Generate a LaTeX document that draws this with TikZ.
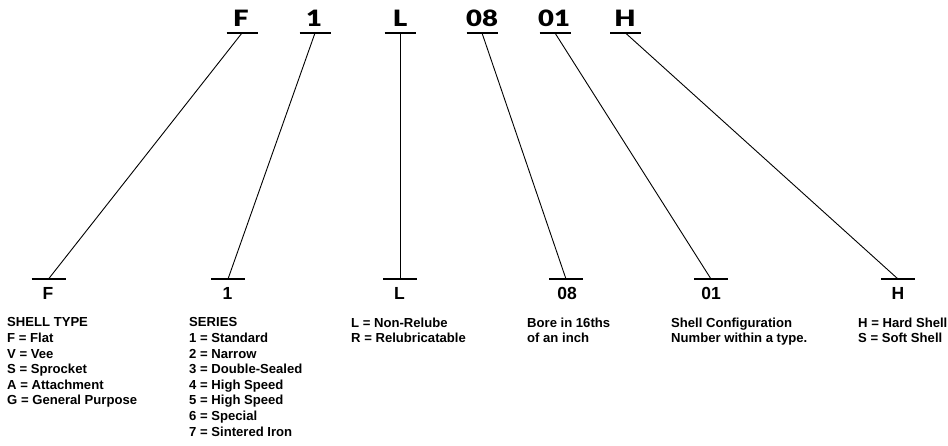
\documentclass[tikz,border=0pt]{standalone}
\usepackage{fontspec}
\setmainfont{Liberation Sans}
\newfontfamily\heavyfont[FakeStretch=1.22]{Lato Black}
\begin{document}
\begin{tikzpicture}[x=1pt,y=-1pt,
  toplet/.style={anchor=base,inner sep=0pt,font=\heavyfont\fontsize{22.5}{22.5}\selectfont},
  botlet/.style={anchor=base,inner sep=0pt,font=\bfseries\fontsize{17.5}{17.5}\selectfont},
  desc/.style={anchor=north west,inner sep=0pt,align=left,font=\bfseries\fontsize{13.1}{15.6}\selectfont},
  uline/.style={line width=1.3pt},
  conn/.style={line width=0.9pt}]
\useasboundingbox (0,0) rectangle (948,445);
% top code letters
\node[toplet] (TF) at (241,26) {F};
\node[toplet] (T1) at (314,26) {1};
\node[toplet] (TL) at (400,26) {L};
\node[toplet] (T08) at (482,26) {08};
\node[toplet] (T01) at (554,26) {01};
\node[toplet] (TH) at (625,26) {H};
% top underline midpoints
\coordinate (tF) at (242,33);
\coordinate (t1) at (315,33);
\coordinate (tL) at (400,33);
\coordinate (t08) at (482,33);
\coordinate (t01) at (555,33);
\coordinate (tH) at (625.5,33);
% bottom underline midpoints
\coordinate (bF) at (48.5,279);
\coordinate (b1) at (228,279);
\coordinate (bL) at (400,279);
\coordinate (b08) at (566,279);
\coordinate (b01) at (711,279);
\coordinate (bH) at (898,279);
% underlines
\foreach \c in {tF,t1,tL,t08,t01,tH}{
  \draw[uline] ([xshift=-15.5pt]\c) -- ([xshift=15.5pt]\c);
}
\foreach \c in {bF,b1,bL,b08,b01,bH}{
  \draw[uline] ([xshift=-17pt]\c) -- ([xshift=17pt]\c);
}
% connectors
\draw[conn] (tF) -- (bF);
\draw[conn] (t1) -- (b1);
\draw[conn] (tL) -- (bL);
\draw[conn] (t08) -- (b08);
\draw[conn] (t01) -- (b01);
\draw[conn] (tH) -- (bH);
% bottom letters
\node[botlet] (BF) at (48,299) {F};
\node[botlet] (B1) at (227.5,299) {1};
\node[botlet] (BL) at (399.5,299) {L};
\node[botlet] (B08) at (567,299) {08};
\node[botlet] (B01) at (711,299) {01};
\node[botlet] (BH) at (898,299) {H};
% descriptions
\node[desc] (DF) at (7,317.6) {SHELL TYPE\\F = Flat\\V = Vee\\S = Sprocket\\A = Attachment\\G = General Purpose};
\node[desc] (D1) at (189,317.6) {SERIES\\1 = Standard\\2 = Narrow\\3 = Double-Sealed\\4 = High Speed\\5 = High Speed\\6 = Special\\7 = Sintered Iron};
\node[desc] (DL) at (351,317.6) {L = Non-Relube\\R = Relubricatable};
\node[desc] (D08) at (527,317.6) {Bore in 16ths\\of an inch};
\node[desc] (D01) at (671,317.6) {Shell Configuration\\Number within a type.};
\node[desc] (DH) at (858,317.6) {H = Hard Shell\\S = Soft Shell};
\end{tikzpicture}
\end{document}
